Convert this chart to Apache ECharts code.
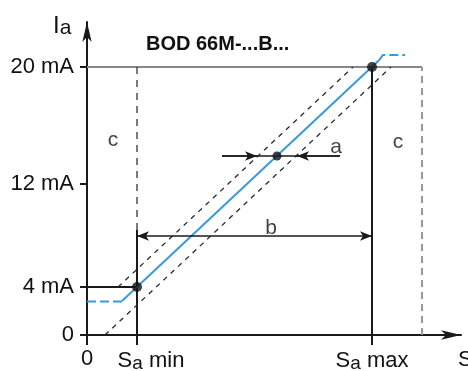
<!DOCTYPE html>
<html>
<head>
<meta charset="utf-8">
<script src="https://cdn.jsdelivr.net/npm/echarts@6/dist/echarts.min.js"></script>
<style>
  html, body { margin: 0; padding: 0; background: #ffffff; }
  #chart { width: 468px; height: 371px; }
</style>
</head>
<body>
<div id="chart"></div>
<script>
// schematic units: x in "span units", y scaled so 20 mA sits at 20
const yTickValues = [0, 3.58, 11.27, 20]
const yTickLabels = ['0', '4 mA', '12 mA', '20 mA']
const xTickValues = [0, 1, 5.7]
const xTickLabels = ['0', 'min', 'max']

const sMin = 1
const sMax = 5.7
const level4 = 3.58
const level20 = 20
const rangeEdge = 6.7
const guideBreak = 7.84

const outputLowTail = [[0, 2.5], [0.7, 2.5]]
const outputCurve = [[0.7, 2.53], [5.84, 20.5]]
const outputHighTail = [[5.84, 20.5], [5.92, 20.9], [6.36, 20.9]]
const upperTolerance = [[0.62, 3.58], [5.32, 20]]
const lowerTolerance = [[0.36, 0], [6.08, 20]]
const keyPoints = [[1, 3.58], [5.7, 20], [3.8, 13.36]]
const dimB = [[1, 7.39], [5.7, 7.39]]
const dimA = [[2.7, 13.36], [5.06, 13.36]]
const dimATips = [3.4, 4.2]
const notes = [['c', 0.52, 14.55], ['c', 6.22, 14.4], ['a', 4.98, 14.05], ['b', 3.68, 7.95]]

const FONT = 'Liberation Sans, Arial, sans-serif'
const BLUE = '#3a9ad9'
const INK = '#1a1a1a'

const chart = echarts.init(document.getElementById('chart'))

const seg = (data, color, width, type, z) => ({
  type: 'line',
  data: data,
  symbol: 'none',
  silent: true,
  z: z || 2,
  lineStyle: { color: color, width: width, type: type || 'solid' }
})

const markArrow = (lines, symbols) => ({
  type: 'line',
  data: [],
  silent: true,
  markLine: {
    silent: true,
    animation: false,
    symbol: symbols,
    symbolSize: [7, 12],
    label: { show: false },
    lineStyle: { color: INK, width: 1.5, type: 'solid' },
    data: lines.map(l => [{ coord: l[0] }, { coord: l[1] }])
  }
})

chart.setOption({
  backgroundColor: '#ffffff',
  animation: false,
  title: {
    text: 'BOD 66M-...B...',
    left: 141,
    top: 29,
    textStyle: { fontFamily: FONT, fontSize: 20, fontWeight: 'bold', color: '#111' }
  },
  grid: { left: 87, right: 7, top: 22, bottom: 36, containLabel: false, outerBoundsMode: 'none' },
  xAxis: {
    type: 'value',
    min: 0,
    max: 7.48,
    axisLine: {
      lineStyle: { color: INK, width: 2 },
      symbol: ['none', 'arrow'],
      symbolSize: [7, 20]
    },
    axisTick: { show: true, customValues: xTickValues, length: 10, lineStyle: { color: INK, width: 2 } },
    splitLine: { show: false },
    axisLabel: {
      customValues: xTickValues,
      margin: 13,
      color: '#111',
      fontFamily: FONT,
      fontSize: 22,
      formatter: v => {
        const i = xTickValues.indexOf(v)
        if (i === 0) return '{n|0}'
        if (i === 1) return '{p| }{s|S}{sub|a}{n| ' + xTickLabels[i] + '}'
        return '{s|S}{sub|a}{n| ' + xTickLabels[i] + '}'
      },
      rich: {
        n: { fontFamily: FONT, fontSize: 22, color: '#111' },
        s: { fontFamily: FONT, fontSize: 22, color: '#111' },
        sub: { fontFamily: FONT, fontSize: 19, color: '#111', padding: [6, 0, 0, 0] },
        p: { width: 28 }
      }
    }
  },
  yAxis: {
    type: 'value',
    min: 0,
    max: 23.36,
    axisLine: {
      show: true,
      lineStyle: { color: INK, width: 2 },
      symbol: ['none', 'arrow'],
      symbolSize: [7, 20]
    },
    axisTick: { show: true, customValues: yTickValues, length: 7, lineStyle: { color: INK, width: 2 } },
    splitLine: { show: false },
    axisLabel: {
      customValues: yTickValues,
      margin: 13,
      color: '#111',
      fontFamily: FONT,
      fontSize: 22,
      formatter: v => yTickLabels[yTickValues.indexOf(v)]
    }
  },
  graphic: [
    {
      type: 'text',
      left: 53,
      top: 14,
      style: {
        text: '{i|I}{s|a}',
        rich: {
          i: { fontFamily: FONT, fontSize: 24, fill: '#111' },
          s: { fontFamily: FONT, fontSize: 21, fill: '#111', padding: [4, 0, 0, 0] }
        }
      }
    },
    {
      type: 'text',
      left: 458,
      top: 349,
      style: { text: 'S', fontFamily: FONT, fontSize: 22, fill: '#111' }
    }
  ],
  series: [
    seg([[0, level20], [rangeEdge, level20]], '#888888', 2),
    seg([[rangeEdge, 0], [rangeEdge, level20]], '#999999', 2, [7, 5]),
    seg([[sMin, guideBreak], [sMin, level20]], '#333333', 1.3, [7, 6]),
    seg([[sMin, 0], [sMin, guideBreak]], INK, 2),
    seg([[sMax, 0], [sMax, level20]], INK, 2),
    seg([[0, level4], [sMin, level4]], INK, 2),
    seg(upperTolerance, '#2a2a2a', 1.3, [5, 5]),
    seg(lowerTolerance, '#2a2a2a', 1.3, [5, 5]),
    seg(dimA, INK, 1.5),
    seg(outputLowTail, BLUE, 2, [9, 4], 3),
    seg(outputCurve, BLUE, 2, 'solid', 3),
    seg(outputHighTail, BLUE, 2, [9, 4], 3),
    markArrow([dimB], ['arrow', 'arrow']),
    markArrow([[dimA[0], [dimATips[0], dimA[0][1]]], [dimA[1], [dimATips[1], dimA[1][1]]]], ['none', 'arrow']),
    {
      type: 'scatter',
      data: keyPoints,
      symbol: 'circle',
      symbolSize: (v, p) => p.dataIndex === 2 ? 9 : 10,
      itemStyle: { color: '#111' },
      z: 5,
      silent: true
    },
    {
      type: 'scatter',
      data: notes.map(n => ({ name: n[0], value: [n[1], n[2]] })),
      symbolSize: 0,
      silent: true,
      label: {
        show: true,
        position: 'inside',
        formatter: p => p.name,
        fontFamily: FONT,
        fontSize: 21,
        color: '#111'
      }
    }
  ]
})
</script>
</body>
</html>
